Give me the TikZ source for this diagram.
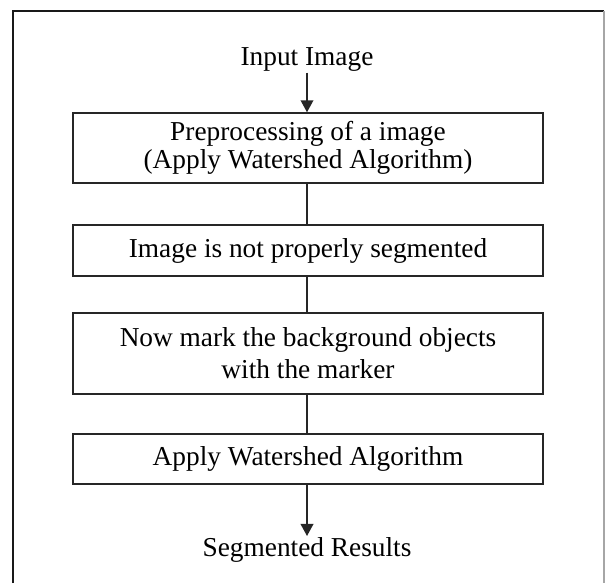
\documentclass[tikz,border=0pt]{standalone}
\usepackage{fontspec}
\setmainfont{Liberation Serif}
\usetikzlibrary{arrows.meta}

\begin{document}
\begin{tikzpicture}[x=0.75pt,y=0.75pt,yscale=-1,xscale=1,
    every node/.style={font=\fontsize{20.5}{22}\selectfont},
    stagebox/.style={draw=black!85,line width=1.1pt,minimum width=352.5pt,align=center,inner sep=0pt},
    flowline/.style={draw=black!85,line width=1.1pt},
    flowarrow/.style={flowline,-{Triangle[width=9.5pt,length=9pt]}}]
\useasboundingbox (0,0) rectangle (605,583);
%Outer frame
\draw [black!90,line width=1.3pt] (13,583) -- (13,11) -- (604,11) ;
\draw [black!35,line width=0.8pt] (604,11) -- (604,583) ;
%Input and output texts
\node [inner sep=1pt] (inimg) at (307,59) {Input Image};
\node [inner sep=1pt] (result) at (307,550) {Segmented Results};
%Stage boxes
\node [stagebox,minimum height=52.5pt,font=\fontsize{20.5}{21}\selectfont] (prep) at (308,148) {Preprocessing of a image\\(Apply Watershed Algorithm)};
\node [stagebox,minimum height=38.25pt] (notseg) at (308,250.5) {Image is not properly segmented};
\node [stagebox,minimum height=60.75pt,font=\fontsize{20.5}{24}\selectfont] (mark) at (308,353.5) {Now mark the background objects\\with the marker};
\node [stagebox,minimum height=37.5pt] (wshed) at (308,459) {Apply Watershed Algorithm};
%Connectors
\draw [flowarrow] (inimg.south) -- (prep.north -| inimg) ;
\draw [flowline] (prep.south -| inimg) -- (notseg.north -| inimg) ;
\draw [flowline] (notseg.south -| inimg) -- (mark.north -| inimg) ;
\draw [flowline] (mark.south -| inimg) -- (wshed.north -| inimg) ;
\draw [flowarrow] (wshed.south -| inimg) -- (result.north) ;
\end{tikzpicture}
\end{document}
